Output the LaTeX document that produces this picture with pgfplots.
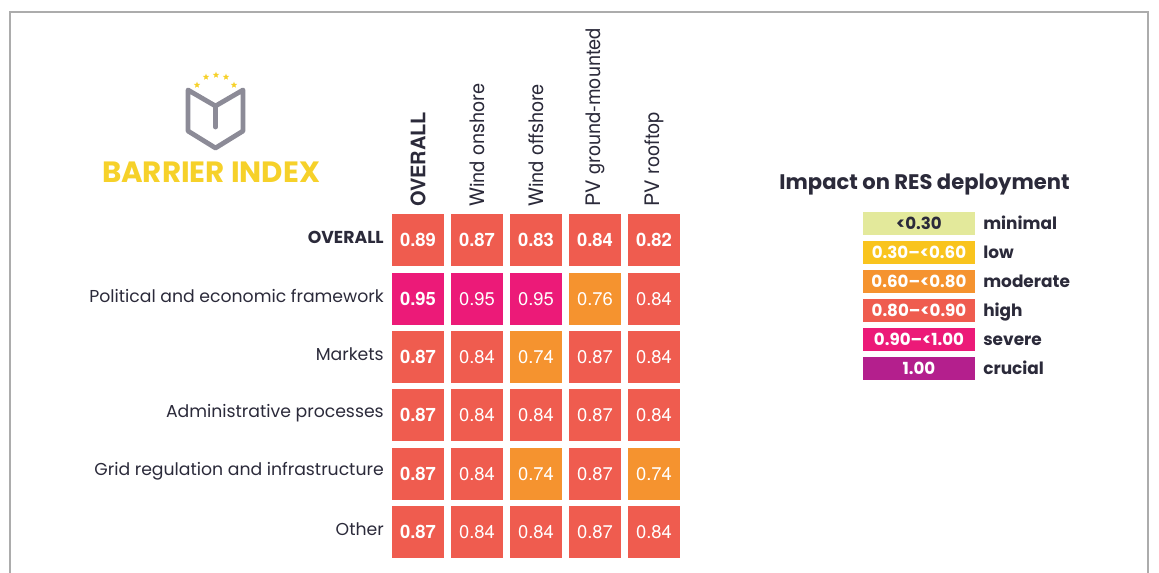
\documentclass[border=0pt]{standalone}
\usepackage{fontspec}
\setmainfont{Poppins}
\newfontfamily\heros{TeX Gyre Heros}
\usepackage{pgfplots}
\pgfplotsset{compat=1.18}
\usetikzlibrary{shapes.geometric}

\newcommand{\fs}[1]{\fontsize{#1}{#1}\selectfont}

\definecolor{cMin}{HTML}{E3E99B}
\definecolor{cLow}{HTML}{F9C41E}
\definecolor{cMod}{HTML}{F5932F}
\definecolor{cHigh}{HTML}{EF5C4F}
\definecolor{cSev}{HTML}{EC1A78}
\definecolor{cCru}{HTML}{B41F8D}
\definecolor{txt}{HTML}{2B2A3A}
\definecolor{logoY}{HTML}{F6D12A}
\definecolor{logoG}{HTML}{8C8B97}

% one square cell per point, its value printed in the middle
\pgfplotsset{
  cell/.style={
    color=#1, only marks, mark=square*, mark size=19.1pt,
    mark options={draw=#1, fill=#1, line width=0pt},
    point meta=explicit symbolic,
    nodes near coords, nodes near coords align=center,
  },
  boldval/.style={every node near coord/.append style={font=\heros\bfseries\fs{13.8}, text=white}},
  plainval/.style={every node near coord/.append style={font=\heros\fs{13.8}, text=white}},
}

\begin{document}
\begin{tikzpicture}
\begin{scope}[x=0.75pt, y=-0.75pt]
  \useasboundingbox (0,0) rectangle (1159,572);
  % page frame
  \draw[gray!65, line width=1pt] (10,575) -- (10,12) -- (1148,12) -- (1148,575);
  % logo
  \draw[logoG, line width=3.6pt, line join=round, line cap=round]
    (188,90) -- (188,131) -- (215.5,148) -- (243,131) -- (243,90) -- (215.5,106) -- cycle;
  \draw[logoG, line width=3.6pt, line cap=round] (215.5,106) -- (215.5,127);
  \foreach \sx/\sy in {197/85, 206/77, 216/75, 226/77, 234/85}
    \node[star, star points=5, star point ratio=2.3, fill=logoY, inner sep=0pt, minimum size=5pt] at (\sx,\sy) {};
  \node[text=logoY, font=\bfseries\fs{22}, anchor=base] at (211,182) {BARRIER INDEX};
  % colour key
  \node[text=txt, font=\bfseries\fs{15.8}, anchor=base] at (924.5,189) {Impact on RES deployment};
  \foreach \k/\col/\tc/\lab/\name in {0/cMin/txt/{<0.30}/minimal, 1/cLow/white/{0.30--<0.60}/low,
      2/cMod/white/{0.60--<0.80}/moderate, 3/cHigh/white/{0.80--<0.90}/high,
      4/cSev/white/{0.90--<1.00}/severe, 5/cCru/white/{1.00}/crucial}{
    \fill[\col] (863,{212+29*\k}) rectangle (975,{235+29*\k});
    \node[text=\tc, font=\bfseries\fs{12.5}, anchor=base] at (919,{229+29*\k}) {\lab};
    \node[text=txt, font=\bfseries\fs{12.7}, anchor=base west, inner sep=0pt] at (983,{229+29*\k}) {\name};
  }
\end{scope}
\begin{axis}[
  at={(291.4pt,-421.05pt)}, anchor=south west,
  scale only axis, width=221.25pt, height=262.8pt,
  xmin=-0.5, xmax=4.5, ymin=-0.5, ymax=5.5,
  clip=false,
  axis line style={draw=none}, major tick length=0pt,
  xtick={0,...,4}, xticklabel pos=right,
  xticklabels={\bfseries OVERALL, Wind onshore, Wind offshore, PV ground-mounted, PV rooftop},
  xticklabel style={rotate=90, anchor=west, font=\heros\fs{15}, text=txt, inner sep=3pt},
  ytick={0,...,5},
  yticklabels={Other, Grid regulation and infrastructure, Administrative processes, Markets,
    Political and economic framework, \bfseries OVERALL},
  yticklabel style={anchor=east, font=\fs{12.95}, text=txt, inner sep=3.4pt, yshift=2pt},
]
% OVERALL row and OVERALL column (bold values)
\addplot[cell=cHigh, boldval] coordinates {
  (0,5) [0.89] (1,5) [0.87] (2,5) [0.83] (3,5) [0.84] (4,5) [0.82]
  (0,3) [0.87] (0,2) [0.87] (0,1) [0.87] (0,0) [0.87]
};
\addplot[cell=cSev, boldval] coordinates { (0,4) [0.95] };
% barrier x technology
\addplot[cell=cSev, plainval] coordinates { (1,4) [0.95] (2,4) [0.95] };
\addplot[cell=cMod, plainval] coordinates {
  (3,4) [0.76] (2,3) [0.74] (2,1) [0.74] (4,1) [0.74]
};
\addplot[cell=cHigh, plainval] coordinates {
  (4,4) [0.84]
  (1,3) [0.84] (3,3) [0.87] (4,3) [0.84]
  (1,2) [0.84] (2,2) [0.84] (3,2) [0.87] (4,2) [0.84]
  (1,1) [0.84] (3,1) [0.87]
  (1,0) [0.84] (2,0) [0.84] (3,0) [0.87] (4,0) [0.84]
};
\end{axis}
\end{tikzpicture}
\end{document}
